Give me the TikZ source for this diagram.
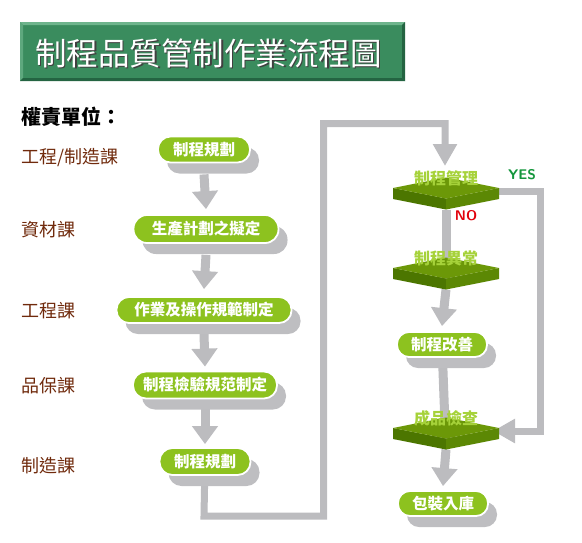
\documentclass[tikz,border=0pt]{standalone}
\usepackage{fontspec}
\newfontfamily\cjk{Noto Sans CJK TC}
\usetikzlibrary{arrows.meta,shadows,backgrounds}
\definecolor{pillgreen}{RGB}{141,194,31}
\definecolor{shadowgray}{RGB}{190,190,193}
\definecolor{linegray}{RGB}{188,188,191}
\definecolor{titlegreen}{RGB}{58,140,94}
\definecolor{titlelight}{RGB}{110,180,140}
\definecolor{titledark}{RGB}{36,100,66}
\definecolor{labelbrown}{RGB}{112,42,12}
\definecolor{slabtop}{RGB}{108,152,8}
\definecolor{slableft}{RGB}{76,118,0}
\definecolor{slabright}{RGB}{92,136,4}
\definecolor{slabtext}{RGB}{166,210,58}
\definecolor{yesgreen}{RGB}{20,150,60}
\definecolor{nored}{RGB}{225,0,10}
\newcommand\mkslab[4]{%
  \begin{scope}[shift={(#2,#3)}]
    \fill[slableft] (-53,0) -- (0,10.5) -- (0,21.5) -- (-53,11) -- cycle;
    \fill[slabright] (53,0) -- (0,10.5) -- (0,21.5) -- (53,11) -- cycle;
    \fill[slabtop] (-53,0) -- (0,-10.5) -- (53,0) -- (0,10.5) -- cycle;
    \coordinate (#1-c) at (0,0);
    \coordinate (#1-b) at (0,21.5);
    \coordinate (#1-r) at (52,3);
    \coordinate (#1-t) at (0,-11);
    \node[slablabel] (#1-label) at (0,-10) {#4};
  \end{scope}}
\begin{document}
\begin{tikzpicture}[x=1pt,y=-1pt,
  pill/.style={rectangle, rounded corners=12.5pt, fill=pillgreen, draw=white, line width=1.8pt,
    minimum height=26pt, inner xsep=6pt, inner ysep=0pt, text=white,
    font=\cjk\bfseries\fontsize{15.5}{16}\selectfont,
    drop shadow={shadow xshift=9pt, shadow yshift=-11pt, fill=shadowgray, opacity=1}},
  slablabel/.style={text=slabtext, font=\cjk\bfseries\fontsize{16}{16}\selectfont, inner sep=0pt},
  unitlabel/.style={text=labelbrown, font=\cjk\fontsize{18}{18}\selectfont, anchor=west, inner sep=0pt},
  flow/.style={draw=linegray, line width=9pt, -{Triangle[width=25pt,length=18pt]}},
  conn/.style={draw=linegray, line width=7pt, line join=miter, -{Triangle[width=23pt,length=22pt]}},
]
\useasboundingbox (0,0) rectangle (582,542);
% title bar
\fill[titlegreen] (20,22) rectangle (405,81);
\fill[titlelight] (20,22) -- (405,22) -- (402,25) -- (23,25) -- cycle;
\fill[titlelight!70!titlegreen] (20,22) -- (23,25) -- (23,78) -- (20,81) -- cycle;
\fill[titledark] (20,81) -- (405,81) -- (402,78) -- (23,78) -- cycle;
\fill[titledark] (405,22) -- (402,25) -- (402,78) -- (405,81) -- cycle;
\node[text=black!75, font=\cjk\fontsize{31.5}{32}\selectfont, inner sep=0pt] (titleshadow) at (210,54.5) {制程品質管制作業流程圖};
\node[text=white, font=\cjk\fontsize{31.5}{32}\selectfont, inner sep=0pt] (title) at (208.5,53) {制程品質管制作業流程圖};
% header and unit labels
\node[anchor=west, inner sep=0pt, font=\cjk\bfseries\fontsize{20}{20}\selectfont] (hdr) at (21,117) {權責單位：};
\node[unitlabel] (u1) at (21,158) {工程/制造課};
\node[unitlabel] (u2) at (21,230) {資材課};
\node[unitlabel] (u3) at (21,311) {工程課};
\node[unitlabel] (u4) at (21,386) {品保課};
\node[unitlabel] (u5) at (21,466) {制造課};
% left column
\node[pill, minimum width=92pt] (p1) at (204,149.5) {制程規劃};
\node[pill, minimum width=145pt, minimum height=28pt, rounded corners=13.5pt] (p2) at (206,229) {生產計劃之擬定};
\node[pill, minimum width=175pt] (p3) at (204,310) {作業及操作規範制定};
\node[pill, minimum width=144pt, minimum height=27pt, rounded corners=13pt] (p4) at (205,385) {制程檢驗規范制定};
\node[pill, minimum width=91pt, minimum height=27pt, rounded corners=13pt] (p5) at (205,461.5) {制程規劃};
% right column
\mkslab{d1}{446}{188}{制程管理}
\mkslab{d2}{446}{268}{制程異常}
\node[pill, minimum width=90pt, minimum height=25pt, rounded corners=12pt] (p6) at (442,344.5) {制程改善};
\mkslab{d3}{446}{428}{成品檢查}
\node[pill, minimum width=90pt, minimum height=25pt, rounded corners=12pt] (p7) at (443,503.5) {包裝入庫};
\node[text=yesgreen, font=\sffamily\bfseries\fontsize{14}{14}\selectfont, inner sep=0pt] (yes) at (522,175) {YES};
\node[text=nored, font=\sffamily\bfseries\fontsize{14}{14}\selectfont, inner sep=0pt] (no) at (466,216) {NO};
% connectors
\coordinate (a1) at (204,516);
\coordinate (a2) at (323.5,516);
\coordinate (a3) at (323.5,123.5);
\coordinate (a4) at (445,123.5);
\coordinate (d1tip) at (445,166);
\coordinate (y1) at (540,191);
\coordinate (y2) at (540,431);
\coordinate (d3tip) at (493,431);
\begin{pgfonlayer}{background}
\draw[flow] ([yshift=-11pt]p1.south) -- ([yshift=5pt]p2.north);
\draw[flow] ([yshift=-11pt]p2.south) -- ([yshift=7pt]p3.north);
\draw[flow] ([yshift=-10pt]p3.south) -- ([yshift=4pt]p4.north);
\draw[flow] ([yshift=-10pt]p4.south) -- ([yshift=3pt]p5.north);
\draw[conn] (p5.center) -- (a1) -- (a2) -- (a3) -- (a4) -- (d1tip);
\draw[flow] (d1-b) -- ([yshift=-20pt]d2-c);
\draw[flow] (d2-b) -- ([yshift=5pt]p6.north);
\draw[flow] (p6.center) -- ([yshift=-23pt]d3-c);
\draw[flow] (d3-b) -- ([yshift=4pt]p7.north);
\draw[conn] ([xshift=-2pt]d1-r) -- (y1) -- (y2) -- (d3tip);
\end{pgfonlayer}
\end{tikzpicture}
\end{document}
